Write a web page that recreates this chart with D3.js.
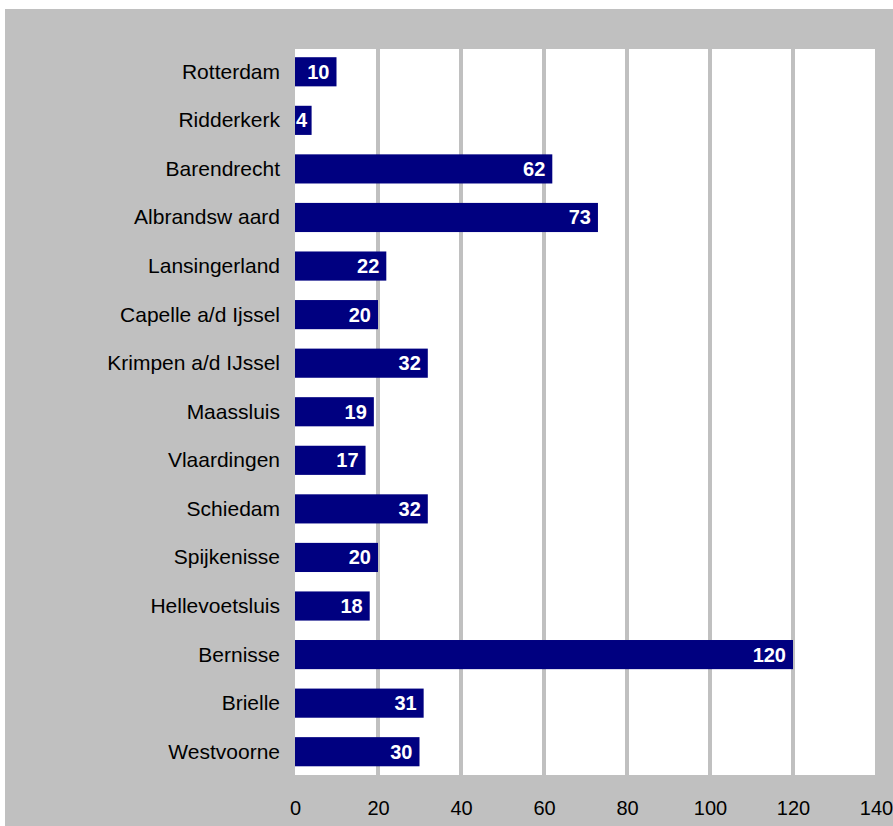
<!DOCTYPE html>
<html>
<head>
<meta charset="utf-8">
<script src="https://cdn.jsdelivr.net/npm/d3@7"></script>
<style>
  html, body { margin: 0; padding: 0; background: #ffffff; }
  svg { display: block; }
  text { font-family: "Liberation Sans", Arial, Helvetica, sans-serif; }
</style>
</head>
<body>
<svg id="chart" width="893" height="826"></svg>
<script>
// Municipalities, top to bottom
const categories = [
  "Rotterdam", "Ridderkerk", "Barendrecht", "Albrandsw aard", "Lansingerland",
  "Capelle a/d Ijssel", "Krimpen a/d IJssel", "Maassluis", "Vlaardingen", "Schiedam",
  "Spijkenisse", "Hellevoetsluis", "Bernisse", "Brielle", "Westvoorne"
];
const values = [10, 4, 62, 73, 22, 20, 32, 19, 17, 32, 20, 18, 120, 31, 30];
const tickValues = [0, 20, 40, 60, 80, 100, 120, 140];

const W = 893, H = 826;
const svg = d3.select("#chart");

// Grey frame and white plotting area
svg.append("rect").attr("x", 5).attr("y", 9).attr("width", W - 5).attr("height", H - 9)
  .attr("fill", "#c0c0c0");

const plot = { left: 295, right: 875, top: 49, bottom: 775 };
svg.append("rect")
  .attr("x", plot.left).attr("y", plot.top)
  .attr("width", plot.right - plot.left).attr("height", plot.bottom - plot.top)
  .attr("fill", "#ffffff");

const x = d3.scaleLinear().domain([0, 140]).range([295, 876]);
const y = d3.scaleBand().domain(categories).range([47.5, 776]).paddingInner(0.4).paddingOuter(0.2);

// Vertical gridlines
svg.append("g").selectAll("line")
  .data(tickValues.filter(t => t > 0 && t < 140))
  .join("line")
  .attr("x1", d => x(d)).attr("x2", d => x(d))
  .attr("y1", plot.top).attr("y2", plot.bottom)
  .attr("stroke", "#c0c0c0").attr("stroke-width", 4);

// Bars
svg.append("g").selectAll("rect")
  .data(categories)
  .join("rect")
  .attr("x", x(0))
  .attr("y", d => y(d))
  .attr("width", (d, i) => x(values[i]) - x(0))
  .attr("height", y.bandwidth())
  .attr("fill", "#000080");

// Value labels inside bar ends
svg.append("g").selectAll("text")
  .data(categories)
  .join("text")
  .attr("x", (d, i) => Math.max(x(values[i]) - 7, x(0) + 12))
  .attr("y", d => y(d) + y.bandwidth() / 2 + 7)
  .attr("text-anchor", "end")
  .attr("fill", "#ffffff")
  .attr("font-weight", "bold")
  .attr("font-size", 20)
  .text((d, i) => values[i]);

// Category axis
const yAxis = svg.append("g")
  .attr("transform", `translate(${plot.left},0)`)
  .call(d3.axisLeft(y).tickSize(0).tickPadding(15));
yAxis.select(".domain").remove();
yAxis.selectAll("text")
  .attr("font-size", 21)
  .attr("fill", "#000000")
  .attr("dy", "0.33em")
  .style("font-family", "'Liberation Sans', Arial, Helvetica, sans-serif");

// Value axis
const xAxis = svg.append("g")
  .attr("transform", `translate(0,${plot.bottom})`)
  .call(d3.axisBottom(x).tickValues(tickValues).tickSize(0).tickPadding(26));
xAxis.select(".domain").remove();
xAxis.selectAll("text")
  .attr("font-size", 20)
  .attr("fill", "#000000")
  .style("font-family", "'Liberation Sans', Arial, Helvetica, sans-serif");
</script>
</body>
</html>
